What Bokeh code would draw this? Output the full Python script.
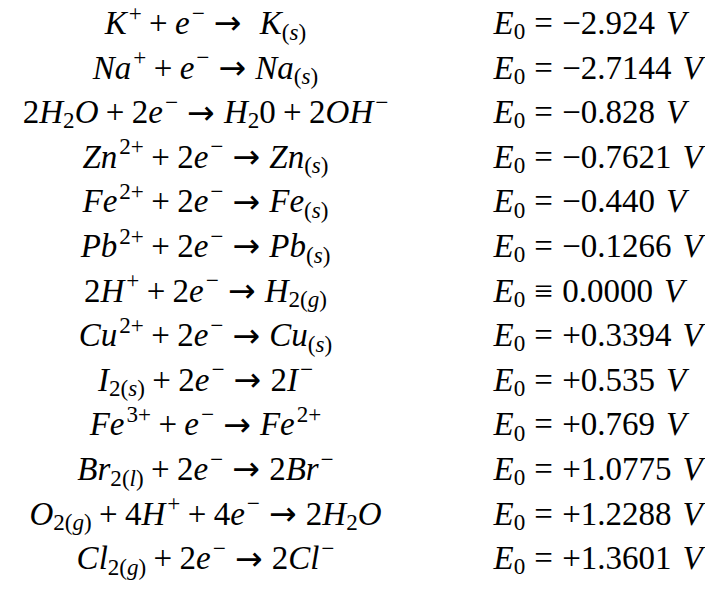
import glob
import os
import struct

from bokeh.plotting import figure
from bokeh.models import ColumnDataSource, Range1d
from bokeh.core.properties import field
from bokeh.embed import file_html
from bokeh.resources import INLINE

# ---------------- data ----------------
reactions = [
    r"K^{+} + e^{-} \to \; K_{(s)}",
    r"Na^{+} + e^{-} \to Na_{(s)}",
    r"2H_{2}O + 2e^{-} \to H_{2}0 + 2OH^{-}",
    r"Zn^{2+} + 2e^{-} \to Zn_{(s)}",
    r"Fe^{2+} + 2e^{-} \to Fe_{(s)}",
    r"Pb^{2+} + 2e^{-} \to Pb_{(s)}",
    r"2H^{+} + 2e^{-} \to H_{2(g)}",
    r"Cu^{2+} + 2e^{-} \to Cu_{(s)}",
    r"I_{2(s)} + 2e^{-} \to 2I^{-}",
    r"Fe^{3+} + e^{-} \to Fe^{2+}",
    r"Br_{2(l)} + 2e^{-} \to 2Br^{-}",
    r"O_{2(g)} + 4H^{+} + 4e^{-} \to 2H_{2}O",
    r"Cl_{2(g)} + 2e^{-} \to 2Cl^{-}",
]
e0_relations = ["=", "=", "=", "=", "=", "=", r"\equiv", "=", "=", "=", "=", "=", "="]
e0_values = ["-2.924", "-2.7144", "-0.828", "-0.7621", "-0.440", "-0.1266", "0.0000",
             "+0.3394", "+0.535", "+0.769", "+1.0775", "+1.2288", "+1.3601"]
e0_unit = "V"

# ---------------- style ----------------
FONT = "Liberation Serif"
ARROW_FONT = "DejaVu Sans"
SIZE = 33.0
SCRIPT = 0.7
LEFT_CENTER = 205.0
RIGHT_START = 493.0
Y0 = 35.0
STEP = 44.6
BASE_K = 0.38   # renderer places the baseline about 0.38 em below the anchor


# ---------------- font metrics ----------------
class TTF:
    def __init__(self, path):
        d = open(path, "rb").read()
        self.d = d
        n = struct.unpack(">H", d[4:6])[0]
        t = {}
        for i in range(n):
            tag, _, off, _ln = struct.unpack(">4sIII", d[12 + 16 * i:28 + 16 * i])
            t[tag] = off
        h = t[b"head"]
        self.upem = self.u16(h + 18)
        hh = t[b"hhea"]
        nhm = self.u16(hh + 34)
        hm = t[b"hmtx"]
        self.adv = [self.u16(hm + 4 * i) for i in range(nhm)]
        c = t[b"cmap"]
        nsub = self.u16(c + 2)
        self.sub = None
        for i in range(nsub):
            pid, eid, off = struct.unpack(">HHI", d[c + 4 + 8 * i:c + 12 + 8 * i])
            fmt = self.u16(c + off)
            if fmt == 4 and ((pid == 3 and eid == 1) or pid == 0):
                self.sub = c + off
                break
        s = self.sub
        segx2 = self.u16(s + 6)
        self.seg = segx2 // 2
        self.ends = s + 14
        self.starts = self.ends + segx2 + 2
        self.deltas = self.starts + segx2
        self.ranges = self.deltas + segx2

    def u16(self, a):
        return struct.unpack(">H", self.d[a:a + 2])[0]

    def gid(self, ch):
        c = ord(ch)
        for i in range(self.seg):
            if c <= self.u16(self.ends + 2 * i):
                st = self.u16(self.starts + 2 * i)
                if c < st:
                    return 0
                ro = self.u16(self.ranges + 2 * i)
                dl = self.u16(self.deltas + 2 * i)
                if ro == 0:
                    return (c + dl) & 0xFFFF
                g = self.u16(self.ranges + 2 * i + ro + 2 * (c - st))
                return (g + dl) & 0xFFFF if g else 0
        return 0

    def width(self, ch):
        g = self.gid(ch)
        if g == 0:
            return None
        return self.adv[min(g, len(self.adv) - 1)] / self.upem


def find_font(name):
    roots = ["/usr/share/fonts", "/usr/local/share/fonts",
             os.path.expanduser("~/.fonts"), os.path.expanduser("~/.local/share/fonts")]
    for r in roots:
        hits = glob.glob(os.path.join(r, "**", name), recursive=True)
        if hits:
            return hits[0]
    return None


FONTS = {}
for key, fname in (("normal", "LiberationSerif-Regular.ttf"),
                   ("italic", "LiberationSerif-Italic.ttf"),
                   ("arrow", "DejaVuSans.ttf")):
    try:
        pth = find_font(fname)
        FONTS[key] = TTF(pth) if pth else None
    except Exception:
        FONTS[key] = None

FALLBACK = {
    "italic": {"K": .667, "N": .667, "a": .5, "e": .444, "H": .722, "O": .722, "Z": .556,
               "n": .5, "F": .611, "P": .611, "b": .5, "C": .667, "u": .5, "I": .333,
               "B": .611, "r": .389, "l": .278, "E": .611, "V": .611, "s": .389, "g": .5},
    "normal": {"+": .564, "\u2212": .564, "=": .564, "(": .333, ")": .333, ".": .25,
               "\u2261": .564},
    "arrow": {"\u2192": .838},
}


def char_w(ch, key):
    f = FONTS.get(key)
    if f is not None:
        try:
            w = f.width(ch)
            if w is not None:
                return w
        except Exception:
            pass
    return FALLBACK[key].get(ch, 0.5)


# ---------------- mini math layout ----------------
def tokenize(s):
    toks = []
    i = 0
    while i < len(s):
        c = s[i]
        if c == " ":
            i += 1
            continue
        if c == "\\":
            j = i + 1
            if s[j].isalpha():
                while j < len(s) and s[j].isalpha():
                    j += 1
                name = s[i + 1:j]
            else:
                name = s[j]
                j += 1
            i = j
            if name == "to":
                toks.append(("rel", "\u2192"))
            elif name == "equiv":
                toks.append(("rel", "\u2261"))
            elif name == ";":
                toks.append(("space", 5 / 18))
            elif name == " ":
                toks.append(("space", 1 / 3))
            continue
        if c in "^_":
            j = s.index("}", i)
            toks.append(("sup" if c == "^" else "sub", s[i + 2:j]))
            i = j + 1
            continue
        if c in "+-":
            toks.append(("bin", "\u2212" if c == "-" else "+"))
        elif c == "=":
            toks.append(("rel", "="))
        else:
            toks.append(("ord", c))
        i += 1
    return toks


def layout(markup, size):
    pieces = []  # [x, dy, text, style, size, end, font]
    x = 0.0
    prev = None
    last_style = None

    def put(ch, style, dy, sz):
        nonlocal x
        if ch == "\u2192":
            font, key = ARROW_FONT, "arrow"
        else:
            font, key = FONT, style
        w = char_w(ch, key) * sz
        if pieces:
            lp = pieces[-1]
            if (lp[1] == dy and lp[3] == style and lp[4] == sz and lp[6] == font
                    and abs(lp[5] - x) < 1e-6):
                lp[2] += ch
                lp[5] = x + w
                x += w
                return
        pieces.append([x, dy, ch, style, sz, x + w, font])
        x += w

    for tok in tokenize(markup):
        kind = tok[0]
        if kind == "space":
            x += tok[1] * size
            continue
        if kind in ("sup", "sub"):
            sz = size * SCRIPT
            if kind == "sup":
                dy = -0.41 * size
                if last_style == "italic":
                    x += 0.06 * size
            else:
                dy = 0.15 * size
            for ch in tok[1]:
                ch2 = "\u2212" if ch == "-" else ch
                put(ch2, "italic" if ch2.isalpha() else "normal", dy, sz)
            continue
        t = kind
        if t == "bin" and prev in (None, "rel", "bin"):
            t = "ord"
        if prev is not None:
            if t == "bin" or prev == "bin":
                x += 4 / 18 * size
            elif (t == "rel") != (prev == "rel"):
                x += 5 / 18 * size
        ch = tok[1]
        style = "italic" if ch.isalpha() else "normal"
        put(ch, style, 0.0, size)
        last_style = style
        prev = t
    return pieces, x


xs, ys, texts, styles, sizes, fonts = [], [], [], [], [], []


def emit(pieces, x0, base_y):
    for pc in pieces:
        xs.append(x0 + pc[0])
        ys.append(base_y + pc[1] - BASE_K * pc[4])
        texts.append(pc[2])
        styles.append(pc[3])
        sizes.append("%.1fpx" % pc[4])
        fonts.append(pc[6])


for i, rx in enumerate(reactions):
    base_y = Y0 + i * STEP
    pcs, total = layout(rx, SIZE)
    emit(pcs, LEFT_CENTER - total / 2, base_y)
    emark = "E_{0} " + e0_relations[i] + " " + e0_values[i] + r" \ " + e0_unit
    pcs, total = layout(emark, SIZE)
    emit(pcs, RIGHT_START, base_y)

src = ColumnDataSource(dict(x=xs, y=ys, text=texts, style=styles, size=sizes, font=fonts))

p = figure(width=705, height=583, x_range=Range1d(0, 705), y_range=Range1d(583, 0),
           output_backend="svg", toolbar_location=None,
           x_axis_type=None, y_axis_type=None, min_border=0)
p.outline_line_color = None
p.background_fill_color = "white"
p.border_fill_color = "white"
p.xgrid.visible = False
p.ygrid.visible = False

p.text(x="x", y="y", text="text", source=src,
       text_font=field("font"), text_font_size=field("size"),
       text_font_style=field("style"), text_align="left",
       text_baseline="alphabetic", text_color="black")

open("out.html", "w").write(file_html(p, INLINE))
